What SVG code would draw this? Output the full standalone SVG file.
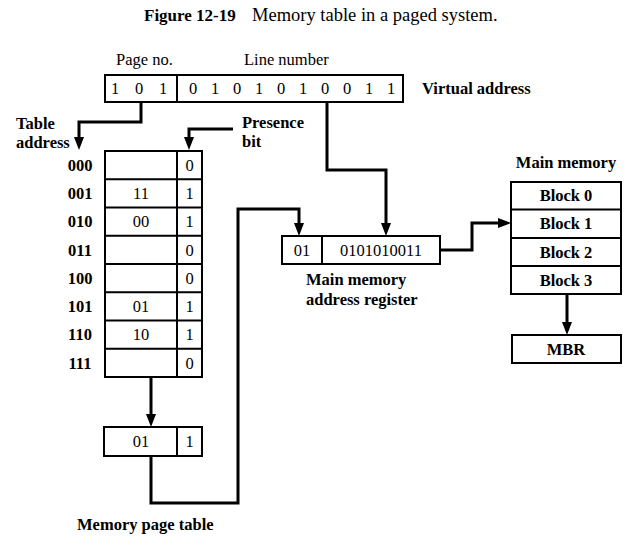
<svg xmlns="http://www.w3.org/2000/svg" width="638" height="537" viewBox="0 0 638 537">
<style>
  text { font-family: "Liberation Serif", "Times New Roman", serif; font-size: 16.5px; fill: #000; }
  .b { font-weight: bold; }
  .m { text-anchor: middle; }
  .box { fill: #fff; stroke: #000; stroke-width: 2; }
  .ln { fill: none; stroke: #000; stroke-width: 2; }
  .conn { fill: none; stroke: #000; stroke-width: 3; stroke-linejoin: miter; }
</style>
<defs>
  <marker id="ah" markerUnits="userSpaceOnUse" markerWidth="13" markerHeight="10" refX="0" refY="5" orient="auto">
    <path d="M0,0 L13,5 L0,10 z" fill="#000"/>
  </marker>
</defs>
<rect width="638" height="537" fill="#fff"/>

<g id="title">
  <text x="144" y="21" class="b" style="font-size:17px">Figure 12-19</text>
  <text x="252" y="21" style="font-size:18.5px">Memory table in a paged system.</text>
</g>

<g id="virtual-address">
  <text x="116" y="65">Page no.</text>
  <text x="244" y="65">Line number</text>
  <rect class="box" x="105" y="75" width="298" height="27"/>
  <line class="ln" x1="177" y1="75" x2="177" y2="102"/>
  <text class="m" y="94"><tspan x="115">1</tspan><tspan x="139">0</tspan><tspan x="163">1</tspan></text>
  <text class="m" y="94"><tspan x="193">0</tspan><tspan x="215">1</tspan><tspan x="237">0</tspan><tspan x="259">1</tspan><tspan x="281">0</tspan><tspan x="303">1</tspan><tspan x="325">0</tspan><tspan x="347">0</tspan><tspan x="369">1</tspan><tspan x="391">1</tspan></text>
  <text x="422" y="94" class="b">Virtual address</text>
</g>

<g id="labels-left">
  <text x="16" y="129" class="b">Table</text>
  <text x="16" y="148" class="b">address</text>
  <text x="242" y="128" class="b">Presence</text>
  <text x="242" y="147" class="b">bit</text>
</g>

<g id="page-table">
  <rect class="box" x="105" y="151" width="97" height="226"/>
  <line class="ln" x1="177" y1="151" x2="177" y2="377"/>
  <line class="ln" x1="105" y1="179.25" x2="202" y2="179.25"/>
  <line class="ln" x1="105" y1="207.5" x2="202" y2="207.5"/>
  <line class="ln" x1="105" y1="235.75" x2="202" y2="235.75"/>
  <line class="ln" x1="105" y1="264" x2="202" y2="264"/>
  <line class="ln" x1="105" y1="292.25" x2="202" y2="292.25"/>
  <line class="ln" x1="105" y1="320.5" x2="202" y2="320.5"/>
  <line class="ln" x1="105" y1="348.75" x2="202" y2="348.75"/>
  <text x="80" y="171" class="m b">000</text>
  <text x="80" y="199" class="m b">001</text>
  <text x="80" y="227" class="m b">010</text>
  <text x="80" y="256" class="m b">011</text>
  <text x="80" y="284" class="m b">100</text>
  <text x="80" y="312" class="m b">101</text>
  <text x="80" y="340" class="m b">110</text>
  <text x="80" y="369" class="m b">111</text>
  <text x="141" y="199" class="m">11</text>
  <text x="141" y="227" class="m">00</text>
  <text x="141" y="312" class="m">01</text>
  <text x="141" y="340" class="m">10</text>
  <text x="189.5" y="171" class="m">0</text>
  <text x="189.5" y="199" class="m">1</text>
  <text x="189.5" y="227" class="m">1</text>
  <text x="189.5" y="256" class="m">0</text>
  <text x="189.5" y="284" class="m">0</text>
  <text x="189.5" y="312" class="m">1</text>
  <text x="189.5" y="340" class="m">1</text>
  <text x="189.5" y="369" class="m">0</text>
</g>

<g id="page-table-output">
  <rect class="box" x="104" y="427" width="98" height="29"/>
  <line class="ln" x1="177" y1="427" x2="177" y2="456"/>
  <text x="141" y="447" class="m">01</text>
  <text x="189.5" y="447" class="m">1</text>
  <text x="77" y="530" class="b">Memory page table</text>
</g>

<g id="mmar">
  <rect class="box" x="282" y="236" width="158" height="28"/>
  <line class="ln" x1="322" y1="236" x2="322" y2="264"/>
  <text x="302" y="256" class="m">01</text>
  <text x="381" y="256" class="m">0101010011</text>
  <text x="306" y="285" class="b">Main memory</text>
  <text x="306" y="305" class="b">address register</text>
</g>

<g id="main-memory">
  <text x="566" y="168" class="m b">Main memory</text>
  <rect class="box" x="511" y="182" width="110" height="112"/>
  <line class="ln" x1="511" y1="209.5" x2="621" y2="209.5"/>
  <line class="ln" x1="511" y1="238" x2="621" y2="238"/>
  <line class="ln" x1="511" y1="266" x2="621" y2="266"/>
  <text x="566" y="201" class="m b">Block 0</text>
  <text x="566" y="229" class="m b">Block 1</text>
  <text x="566" y="257.5" class="m b">Block 2</text>
  <text x="566" y="285.5" class="m b">Block 3</text>
</g>

<g id="mbr">
  <rect class="box" x="512" y="335" width="109" height="28"/>
  <text x="566" y="355" class="m b">MBR</text>
</g>

<g id="connectors">
  <path class="conn" d="M141,102 V122 H79 V137" marker-end="url(#ah)"/>
  <path class="conn" d="M233,129 H189 V137" marker-end="url(#ah)"/>
  <path class="conn" d="M151,377 V414" marker-end="url(#ah)"/>
  <path class="conn" d="M151,456 V503 H238 V209 H299 V223" marker-end="url(#ah)"/>
  <path class="conn" d="M327,102 V170 H386 V223" marker-end="url(#ah)"/>
  <path class="conn" d="M440,250 H472 V223 H498" marker-end="url(#ah)"/>
  <path class="conn" d="M567,294 V322" marker-end="url(#ah)"/>
</g>
</svg>
